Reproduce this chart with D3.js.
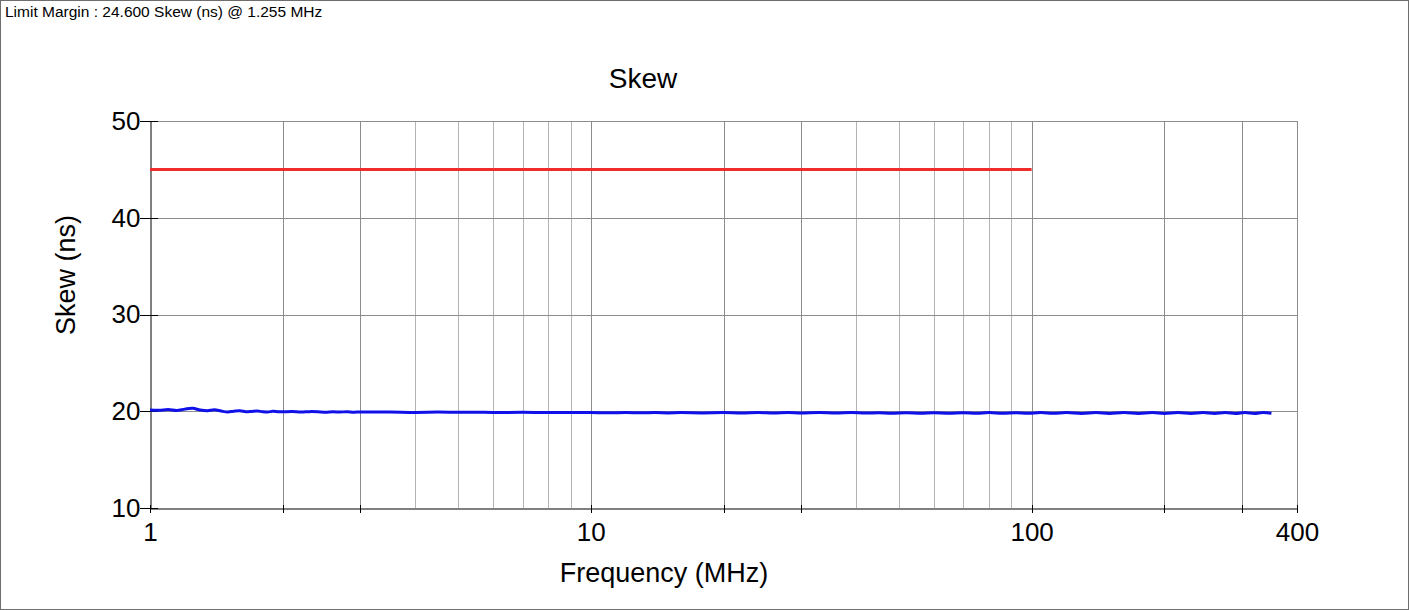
<!DOCTYPE html>
<html><head><meta charset="utf-8">
<script src="https://cdn.jsdelivr.net/npm/d3@7"></script>
<style>html,body{margin:0;padding:0;background:#fff;}svg{display:block;font-family:Arial,"Liberation Sans",sans-serif;}</style>
</head><body>
<svg id="c" width="1409" height="610"></svg>
<script>
const headerText = "Limit Margin : 24.600 Skew (ns) @ 1.255 MHz";
const chartTitle = "Skew";
const xTitle = "Frequency (MHz)";
const yTitle = "Skew (ns)";
const xTickLabels = [1, 10, 100, 400];
const xMajorLines = [2, 3, 10, 20, 30, 100, 200, 300];
const xMinorLines = [4, 5, 6, 7, 8, 9, 40, 50, 60, 70, 80, 90];
const yTicks = [10, 20, 30, 40, 50];
const limitFreq = [1, 100];
const limitVals = [45, 45];
const measFreq = [1.00,1.05,1.10,1.15,1.20,1.25,1.30,1.35,1.40,1.45,1.50,1.55,1.60,1.65,1.70,1.75,1.80,1.85,1.90,1.95,2.00,2.10,2.20,2.30,2.40,2.50,2.60,2.70,2.80,2.90,3.00,3.5,4,4.5,5,5.5,6,7,8,9,10,11,12,13,14,15,16,18,20,22,24,26,28,30,33,36,39,42,45,48,52,56,60,65,70,75,80,86,92,98,105,112,120,130,140,150,162,175,188,200,215,230,245,260,275,290,305,320,335,350];
const measVals = [20.12,20.10,20.18,20.08,20.22,20.30,20.12,20.05,20.15,20.02,19.92,20.00,20.05,19.95,19.98,20.02,19.96,19.93,19.99,19.96,19.94,19.98,19.92,19.96,19.95,19.90,19.94,19.92,19.95,19.90,19.93,19.92,19.88,19.91,19.89,19.90,19.87,19.89,19.86,19.88,19.87,19.84,19.87,19.84,19.86,19.83,19.86,19.83,19.86,19.82,19.86,19.82,19.86,19.82,19.86,19.81,19.86,19.81,19.85,19.80,19.85,19.80,19.85,19.80,19.85,19.80,19.86,19.80,19.85,19.80,19.86,19.80,19.86,19.78,19.86,19.78,19.87,19.77,19.87,19.77,19.87,19.77,19.87,19.77,19.87,19.77,19.87,19.77,19.87,19.80];

const svg = d3.select("#c");
const L = 150, R = 1297, T = 121, B = 508;
const x = d3.scaleLog().domain([1, 400]).range([L, R]);
const y = d3.scaleLinear().domain([10, 50]).range([B, T]);
const FF = "Arial,'Liberation Sans',sans-serif";

// outer frame
svg.append("rect").attr("x",0.5).attr("y",0.5).attr("width",1408).attr("height",609)
  .attr("fill","none").attr("stroke","#6e6e6e").attr("stroke-width",1);

svg.append("text").attr("x",5).attr("y",17).attr("font-size",15.5).attr("fill","#000").text(headerText);
svg.append("text").attr("x",643).attr("y",88).attr("text-anchor","middle").attr("font-size",28).text(chartTitle);

const g = svg.append("g");
// grid
g.selectAll(".vmin").data(xMinorLines).enter().append("line")
  .attr("x1",d=>Math.round(x(d))+0.5).attr("x2",d=>Math.round(x(d))+0.5).attr("y1",T).attr("y2",B)
  .attr("stroke","#b4b4b4").attr("stroke-width",1);
g.selectAll(".vmaj").data(xMajorLines).enter().append("line")
  .attr("x1",d=>Math.round(x(d))+0.5).attr("x2",d=>Math.round(x(d))+0.5).attr("y1",T).attr("y2",B)
  .attr("stroke","#8c8c8c").attr("stroke-width",1);
g.selectAll(".hg").data(yTicks.slice(1)).enter().append("line")
  .attr("x1",L).attr("x2",R).attr("y1",d=>Math.round(y(d))+0.5).attr("y2",d=>Math.round(y(d))+0.5)
  .attr("stroke","#8c8c8c").attr("stroke-width",1);
g.append("line").attr("x1",Math.round(x(400))+0.5).attr("x2",Math.round(x(400))+0.5).attr("y1",T).attr("y2",B)
  .attr("stroke","#8c8c8c");

// axes
const yAxis = d3.axisLeft(y).tickValues(yTicks).tickSize(0).tickPadding(10).tickFormat(d3.format("d"));
const ya = svg.append("g").attr("transform",`translate(${L+0.5},0)`).call(yAxis);
ya.select(".domain").attr("stroke","#000");
ya.selectAll("text").attr("font-size",26).attr("font-family",FF).attr("fill","#000");
svg.selectAll(".yt").data(yTicks).enter().append("line")
  .attr("x1",L-10).attr("x2",L+8).attr("y1",d=>Math.round(y(d))+0.5).attr("y2",d=>Math.round(y(d))+0.5)
  .attr("stroke","#000");

const xAxis = d3.axisBottom(x).tickValues(xTickLabels).tickSize(0).tickPadding(14).tickFormat(d3.format("d"));
const xa = svg.append("g").attr("transform",`translate(0,${B+0.5})`).call(xAxis);
xa.select(".domain").attr("stroke","#000");
xa.selectAll("text").attr("font-size",26).attr("font-family",FF).attr("fill","#000");
svg.selectAll(".xt").data([1,2,3,10,20,30,100,200,300,400]).enter().append("line")
  .attr("x1",d=>Math.round(x(d))+0.5).attr("x2",d=>Math.round(x(d))+0.5).attr("y1",B-3).attr("y2",B+5)
  .attr("stroke","#000");

svg.append("text").attr("x",664).attr("y",582).attr("text-anchor","middle").attr("font-size",27).text(xTitle);
svg.append("text").attr("transform","translate(75,275) rotate(-90)").attr("text-anchor","middle").attr("font-size",27).text(yTitle);

// series
const limitData = limitFreq.map((f,i)=>({f, v: limitVals[i]}));
const measData = measFreq.map((f,i)=>({f, v: measVals[i]}));
svg.append("path").datum(limitData).attr("fill","none").attr("stroke","#ee2c2c").attr("stroke-width",3)
  .attr("d", d3.line().x(d=>x(d.f)).y(d=>y(d.v)));
svg.append("path").datum(measData).attr("fill","none").attr("stroke","#1010e8").attr("stroke-width",3)
  .attr("d", d3.line().curve(d3.curveCatmullRom).x(d=>x(d.f)).y(d=>y(d.v)));
</script>
</body></html>
